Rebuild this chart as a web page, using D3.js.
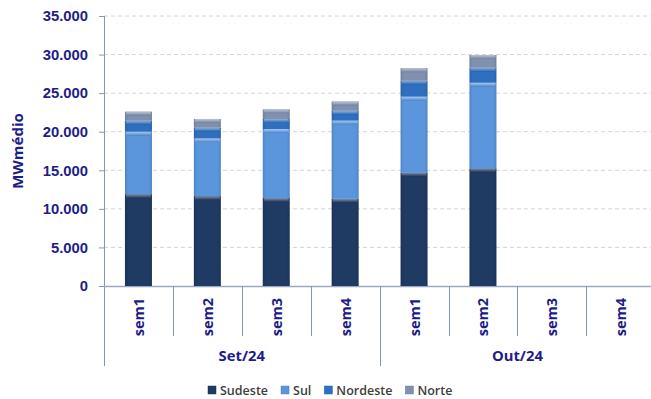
<!DOCTYPE html>
<html>
<head>
<meta charset="utf-8">
<script src="https://cdn.jsdelivr.net/npm/d3@7"></script>
<style>
  html, body { margin: 0; padding: 0; background: #fff; }
  svg { display: block; font-family: "Open Sans", "DejaVu Sans", sans-serif; }
</style>
</head>
<body>
<svg id="chart" width="651" height="399"></svg>
<script>
// Weekly load by subsystem (MWmédio)
const months = ["Set/24", "Out/24"];
const weeks = ["sem1", "sem2", "sem3", "sem4"];
const seriesNames = ["Sudeste", "Sul", "Nordeste", "Norte"];
const sudeste  = [11900, 11650, 11400, 11300, 14700, 15250, null, null];
const sul      = [8100, 7500, 8950, 10150, 9850, 11100, null, null];
const nordeste = [1430, 1380, 1300, 1260, 2080, 1950, null, null];
const norte    = [1170, 1120, 1250, 1200, 1600, 1650, null, null];
const yTicks = [0, 5000, 10000, 15000, 20000, 25000, 30000, 35000];
const colors = ["#1f3a63", "#5b96dc", "#2f6fbf", "#7f91ae"];

const seriesValues = [sudeste, sul, nordeste, norte];
const categories = [];
months.forEach(m => weeks.forEach(w => categories.push({ key: m + "|" + w, month: m, week: w })));
const rows = categories.map((c, i) => {
  const r = { key: c.key };
  seriesNames.forEach((s, j) => { r[s] = seriesValues[j][i] || 0; });
  return r;
});

const svg = d3.select("#chart");
const W = 651;
const plotBottom = 286;

const x = d3.scaleBand().domain(categories.map(c => c.key)).range([104, 104 + 8 * 68.9]).paddingInner(0).paddingOuter(0);
const y = d3.scaleLinear().domain([0, 35000]).range([plotBottom, 16]);

const textColor = "#1d1d8a";

// gradients per series: darker side edges and a light bevel cap
const defs = svg.append("defs");
seriesNames.forEach((s, i) => {
  const c = d3.color(colors[i]);
  const g = defs.append("linearGradient").attr("id", "g" + i).attr("x1", "0").attr("x2", "1").attr("y1", "0").attr("y2", "0");
  g.append("stop").attr("offset", "0").attr("stop-color", c.darker(0.35));
  g.append("stop").attr("offset", "0.12").attr("stop-color", c);
  g.append("stop").attr("offset", "0.88").attr("stop-color", c);
  g.append("stop").attr("offset", "1").attr("stop-color", c.darker(0.35));
  const cap = defs.append("linearGradient").attr("id", "cap" + i).attr("x1", "0").attr("x2", "0").attr("y1", "0").attr("y2", "1");
  cap.append("stop").attr("offset", "0").attr("stop-color", d3.interpolateRgb(c, "#ffffff")(0.45));
  cap.append("stop").attr("offset", "0.5").attr("stop-color", d3.interpolateRgb(c, "#ffffff")(0.2));
  cap.append("stop").attr("offset", "1").attr("stop-color", c.darker(0.4));
});

// gridlines
svg.append("g").selectAll("line").data(yTicks.filter(t => t > 0)).join("line")
  .attr("x1", 104).attr("x2", W).attr("y1", d => y(d)).attr("y2", d => y(d))
  .attr("stroke", "#d4d4d4").attr("stroke-width", 1).attr("stroke-dasharray", "4,3");

// y axis
const yAxis = d3.axisLeft(y).tickValues(yTicks).tickSize(5).tickPadding(11)
  .tickFormat(d => d === 0 ? "0" : d3.format(",")(d).replace(/,/g, "."));
const ya = svg.append("g").attr("transform", "translate(104,0)").call(yAxis);
ya.select(".domain").remove();
ya.selectAll(".tick line").attr("stroke", "#8497b0");
ya.selectAll(".tick text").attr("fill", textColor).attr("font-size", 14.8).attr("font-weight", "bold");

// axis lines
svg.append("line").attr("x1", 104.5).attr("x2", 104.5).attr("y1", 16).attr("y2", 366).attr("stroke", "#8497b0");
svg.append("line").attr("x1", 104).attr("x2", W).attr("y1", plotBottom + 0.5).attr("y2", plotBottom + 0.5).attr("stroke", "#9aa9c0").attr("stroke-width", 1.5);

// category separators (longer at month boundaries)
categories.forEach((c, i) => {
  if (i === 0) return;
  const xx = Math.round(x(c.key)) + 0.5;
  const longLine = c.week === "sem1";
  svg.append("line").attr("x1", xx).attr("x2", xx).attr("y1", plotBottom).attr("y2", longLine ? 366 : 336)
    .attr("stroke", "#8497b0");
});

// week labels
svg.append("g").selectAll("text").data(categories).join("text")
  .attr("transform", d => `translate(${x(d.key) + x.bandwidth() / 2 + 5.5},${plotBottom + 12}) rotate(-90)`)
  .attr("text-anchor", "end").attr("fill", textColor).attr("font-size", 14.5).attr("font-weight", "bold")
  .text(d => d.week);

// month labels
months.forEach(m => {
  const ks = categories.filter(c => c.month === m).map(c => x(c.key));
  const cx = (d3.min(ks) + d3.max(ks) + x.bandwidth()) / 2;
  svg.append("text").attr("x", cx).attr("y", 361).attr("text-anchor", "middle")
    .attr("fill", textColor).attr("font-size", 14.8).attr("font-weight", "bold").text(m);
});

// y title
svg.append("text").attr("transform", "translate(23,151) rotate(-90)").attr("text-anchor", "middle")
  .attr("fill", textColor).attr("font-size", 15).attr("font-weight", "bold").text("MWmédio");

// stacked bars
const stack = d3.stack().keys(seriesNames)(rows);
const barW = 27;
stack.forEach((layer, i) => {
  const g = svg.append("g");
  layer.forEach((d, k) => {
    if (d[1] - d[0] <= 0) return;
    const cx = x(rows[k].key) + x.bandwidth() / 2;
    const top = y(d[1]), bot = y(d[0]);
    g.append("rect").attr("x", cx - barW / 2).attr("y", top).attr("width", barW).attr("height", bot - top)
      .attr("fill", `url(#g${i})`);
    g.append("rect").attr("x", cx - barW / 2 + 1).attr("y", top).attr("width", barW - 2).attr("height", Math.min(4, bot - top))
      .attr("fill", `url(#cap${i})`).attr("rx", 1);
  });
});

// legend, laid out left to right from measured text widths
const lg = svg.append("g");
let lx = 208;
seriesNames.forEach((s, i) => {
  lg.append("rect").attr("x", lx).attr("y", 386).attr("width", 8).attr("height", 8)
    .attr("fill", `url(#g${i})`).attr("stroke", d3.color(colors[i]).darker(0.3)).attr("stroke-width", 0.5);
  const t = lg.append("text").attr("x", lx + 12).attr("y", 394.5).attr("fill", "#404040")
    .attr("font-size", 12.5).attr("font-weight", 600).text(s);
  lx += 12 + t.node().getComputedTextLength() + 13;
});
</script>
</body>
</html>
